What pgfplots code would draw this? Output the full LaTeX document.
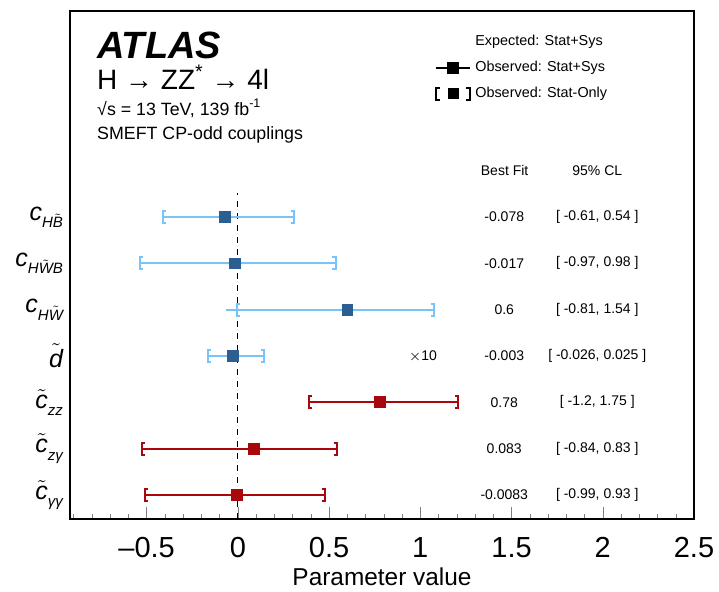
\documentclass[border=0pt]{standalone}
\usepackage{fontspec}
\setmainfont{Liberation Sans}
\usepackage{pgfplots}
\pgfplotsset{compat=1.18}

\definecolor{ltblue}{RGB}{120,196,248}
\definecolor{dkblue}{RGB}{44,94,146}
\definecolor{dkred}{RGB}{168,8,12}

% bracket marks for the stat-only intervals
\pgfdeclareplotmark{lbrack}{%
  \pgfpathmoveto{\pgfqpoint{1.6pt}{\pgfplotmarksize}}%
  \pgfpathlineto{\pgfqpoint{0pt}{\pgfplotmarksize}}%
  \pgfpathlineto{\pgfqpoint{0pt}{-\pgfplotmarksize}}%
  \pgfpathlineto{\pgfqpoint{1.6pt}{-\pgfplotmarksize}}%
  \pgfusepathqstroke}
\pgfdeclareplotmark{rbrack}{%
  \pgfpathmoveto{\pgfqpoint{-1.6pt}{\pgfplotmarksize}}%
  \pgfpathlineto{\pgfqpoint{0pt}{\pgfplotmarksize}}%
  \pgfpathlineto{\pgfqpoint{0pt}{-\pgfplotmarksize}}%
  \pgfpathlineto{\pgfqpoint{-1.6pt}{-\pgfplotmarksize}}%
  \pgfusepathqstroke}

\newcommand{\sub}[1]{\raisebox{-0.55ex}{\fontsize{7.5}{8}\selectfont\itshape #1}}
\newcommand{\tl}[1]{$\tilde{\mbox{#1}}$}
\newcommand{\smallf}{\fontsize{7}{8.5}\selectfont}
\newcommand{\headf}{\fontsize{8.9}{10}\selectfont}

\begin{document}
\begin{tikzpicture}
\useasboundingbox (-35pt,-36.5pt) rectangle (324.5pt,259.5pt);
\begin{axis}[
  width=312pt, height=254pt, scale only axis,
  xmin=-0.92, xmax=2.5, ymin=0.48, ymax=11.45,
  clip=false,
  xtick={-0.5,0,0.5,1,1.5,2,2.5},
  xticklabels={\textendash0.5,0,0.5,1,1.5,2,2.5},
  minor xtick={-0.9,-0.8,-0.7,-0.6,-0.4,-0.3,-0.2,-0.1,0.1,0.2,0.3,0.4,0.6,0.7,0.8,0.9,1.1,1.2,1.3,1.4,1.6,1.7,1.8,1.9,2.1,2.2,2.3,2.4},
  xtick pos=bottom,
  major tick length=6pt, minor tick length=2.5pt,
  xticklabel style={font=\fontsize{14.5}{16}\selectfont, yshift=-5.5pt},
  ytick={1,2,3,4,5,6,7},
  yticklabels={
    {\itshape\tl{c}\sub{γγ}},
    {\itshape\tl{c}\sub{zγ}},
    {\itshape\tl{c}\sub{zz}},
    {\itshape\tl{d}},
    {\itshape c\sub{H\tl{W}}},
    {\itshape c\sub{H\tl{W}B}},
    {\itshape c\sub{H\tl{B}}}},
  ytick style={draw=none},
  yticklabel style={font=\fontsize{12.5}{14}\selectfont, xshift=0pt},
  xlabel={Parameter value},
  xlabel style={font=\fontsize{12.2}{14}\selectfont, yshift=1.5pt},
  axis line style={line width=0.7pt},
  legend style={at={(rel axis cs:0.575,0.969)}, anchor=north west, draw=none, fill=none,
    font=\fontsize{7.2}{8.5}\selectfont, row sep=2.2pt},
  legend cell align=left,
]
% zero line
\addplot[forget plot, black, dashed, line width=0.5pt] coordinates {(0,0.48) (0,7.52)};

% stat+sys intervals (lines)
\addplot[forget plot, draw=none, mark=none, error bars/.cd, x dir=both, x explicit,
  error mark=none, error bar style={ltblue, line width=1pt}] coordinates {
  (-0.071,7) += (0.381,0) -= (0.339,0)
  (-0.015,6) += (0.551,0) -= (0.522,0)
  (0.600,5)  += (0.475,0) -= (0.666,0)
  (-0.026,4) += (0.169,0) -= (0.137,0)
};
\addplot[forget plot, draw=none, mark=none, error bars/.cd, x dir=both, x explicit,
  error mark=none, error bar style={dkred, line width=1pt}] coordinates {
  (0.780,3)  += (0.428,0) -= (0.392,0)
  (0.088,2)  += (0.455,0) -= (0.614,0)
  (-0.005,1) += (0.484,0) -= (0.503,0)
};

% stat-only brackets
\addplot[forget plot, only marks, ltblue, mark=lbrack, mark size=3pt, mark options={line width=1pt}]
  coordinates {(-0.410,7) (-0.537,6) (-0.007,5) (-0.163,4)};
\addplot[forget plot, only marks, ltblue, mark=rbrack, mark size=3pt, mark options={line width=1pt}]
  coordinates {(0.310,7) (0.536,6) (1.075,5) (0.143,4)};
\addplot[forget plot, only marks, dkred, mark=lbrack, mark size=3pt, mark options={line width=1pt}]
  coordinates {(0.388,3) (-0.526,2) (-0.508,1)};
\addplot[forget plot, only marks, dkred, mark=rbrack, mark size=3pt, mark options={line width=1pt}]
  coordinates {(1.208,3) (0.543,2) (0.479,1)};

% best-fit points
\addplot[forget plot, only marks, mark=square*, mark size=2.7pt, dkblue]
  coordinates {(-0.071,7) (-0.015,6) (0.600,5) (-0.026,4)};
\addplot[forget plot, only marks, mark=square*, mark size=2.7pt, dkred]
  coordinates {(0.780,3) (0.088,2) (-0.005,1)};

% legend
\addlegendimage{legend image code/.code={}}
\addlegendimage{black, line width=0.9pt, mark=square*, mark size=2.5pt}
\addlegendimage{legend image code/.code={
  \draw[line width=1pt] (0.07cm,3pt) -- (0cm,3pt) -- (0cm,-3pt) -- (0.07cm,-3pt);
  \draw[line width=1pt] (0.53cm,3pt) -- (0.6cm,3pt) -- (0.6cm,-3pt) -- (0.53cm,-3pt);
  \fill (0.3cm,0pt) +(-2.5pt,-2.5pt) rectangle +(2.5pt,2.5pt);}}
\legend{Expected: Stat+Sys, Observed: Stat+Sys, Observed: Stat-Only}

% header text
\node[anchor=base west, inner sep=0pt, font=\fontsize{19}{21}\selectfont\bfseries\itshape] at (rel axis cs:0.043,0.906) {ATLAS};
\node[anchor=base west, inner sep=0pt, font=\fontsize{14}{15}\selectfont] at (rel axis cs:0.043,0.846) {H → ZZ\textsuperscript{*} → 4l};
\node[anchor=base west, inner sep=0pt, font=\headf] at (rel axis cs:0.043,0.795) {√s = 13 TeV, 139 fb\textsuperscript{-1}};
\node[anchor=base west, inner sep=0pt, font=\headf] at (rel axis cs:0.043,0.747) {SMEFT CP-odd couplings};

% table of results
\node[font=\smallf] at (axis cs:1.462,8.0) {Best Fit};
\node[font=\smallf] at (axis cs:1.97,8.0) {95\% CL};
\node[font=\smallf] at (axis cs:1.014,3.98) {$\times$10};
\node[font=\smallf] at (axis cs:1.46,7) {-0.078};
\node[font=\smallf] at (axis cs:1.46,6) {-0.017};
\node[font=\smallf] at (axis cs:1.46,5) {0.6};
\node[font=\smallf] at (axis cs:1.46,4) {-0.003};
\node[font=\smallf] at (axis cs:1.46,3) {0.78};
\node[font=\smallf] at (axis cs:1.46,2) {0.083};
\node[font=\smallf] at (axis cs:1.46,1) {-0.0083};
\node[font=\smallf] at (axis cs:1.97,7) {[ -0.61, 0.54 ]};
\node[font=\smallf] at (axis cs:1.97,6) {[ -0.97, 0.98 ]};
\node[font=\smallf] at (axis cs:1.97,5) {[ -0.81, 1.54 ]};
\node[font=\smallf] at (axis cs:1.97,4) {[ -0.026, 0.025 ]};
\node[font=\smallf] at (axis cs:1.97,3) {[ -1.2, 1.75 ]};
\node[font=\smallf] at (axis cs:1.97,2) {[ -0.84, 0.83 ]};
\node[font=\smallf] at (axis cs:1.97,1) {[ -0.99, 0.93 ]};
\end{axis}
\end{tikzpicture}
\end{document}
